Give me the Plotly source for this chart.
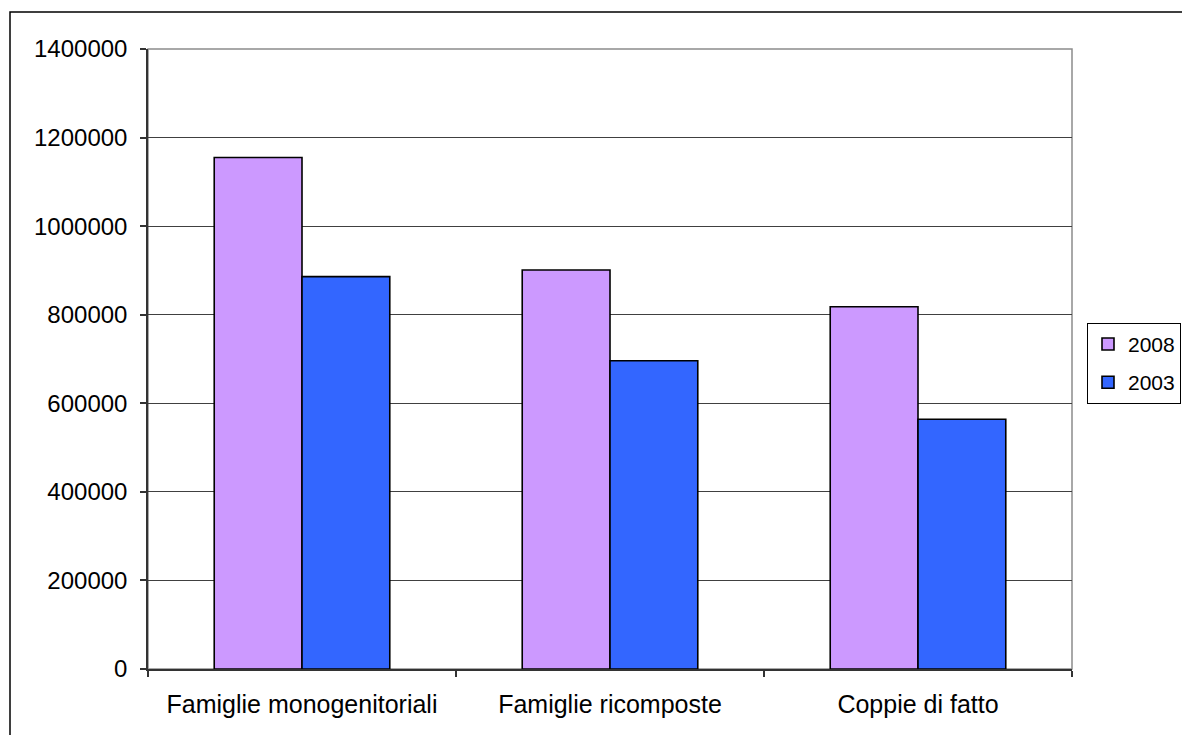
import plotly.graph_objects as go

# Household types and counts for the two survey years
categories = ["Famiglie monogenitoriali", "Famiglie ricomposte", "Coppie di fatto"]
values_2008 = [1155000, 901000, 818000]
values_2003 = [886000, 696000, 564000]
series_names = ["2008", "2003"]
y_ticks = [0, 200000, 400000, 600000, 800000, 1000000, 1200000, 1400000]

W, H = 1182, 735
M_L, M_R, M_T, M_B = 148, 110, 49, 65.5
plot_w = W - M_L - M_R
plot_h = H - M_T - M_B

FONT = "Arial, 'Liberation Sans', sans-serif"

fig = go.Figure()
fig.add_trace(go.Bar(
    x=categories, y=values_2008, name=series_names[0], legendgroup="a",
    marker=dict(color="#CC99FF", line=dict(color="#000000", width=1.6)),
))
fig.add_trace(go.Bar(
    x=categories, y=values_2003, name=series_names[1], legendgroup="b",
    marker=dict(color="#3366FF", line=dict(color="#000000", width=1.6)),
))

def px_x(px):
    return (px - M_L) / plot_w

def px_y(py):
    return (H - M_B - py) / plot_h

shapes = [
    # plot-area frame (top / right edges in grey)
    dict(type="rect", xref="paper", yref="paper", x0=0, x1=1, y0=0, y1=1,
         line=dict(color="#8c8c8c", width=1.5), layer="below"),
    # outer chart frame
    dict(type="rect", xref="paper", yref="paper",
         x0=px_x(10), x1=px_x(W + 20), y0=px_y(H + 20), y1=px_y(12),
         line=dict(color="#000000", width=1.5), layer="below"),
]

fig.update_layout(
    width=W, height=H,
    margin=dict(l=M_L, r=M_R, t=M_T, b=M_B, autoexpand=False),
    paper_bgcolor="white", plot_bgcolor="white",
    barmode="group", bargap=0.43, bargroupgap=0,
    font=dict(family=FONT, size=24, color="#000000"),
    shapes=shapes,
    showlegend=True,
    legend=dict(
        x=px_x(1087), xanchor="left", y=px_y(323), yanchor="top",
        bordercolor="#000000", borderwidth=1, bgcolor="white",
        font=dict(family=FONT, size=21, color="#000000"),
        traceorder="grouped", tracegroupgap=8,
        itemwidth=30,
    ),
    xaxis=dict(
        type="category", showgrid=False, showline=True,
        linecolor="#333333", linewidth=1.5,
        ticks="outside", ticklen=6, tickcolor="#333333", tickwidth=1.5,
        tickson="boundaries",
        ticklabelstandoff=12,
        tickfont=dict(family=FONT, size=25, color="#000000"),
    ),
    yaxis=dict(
        range=[0, 1400000], tickvals=y_ticks, ticktext=[str(v) for v in y_ticks],
        showgrid=True, gridcolor="#404040", gridwidth=1,
        zeroline=False, showline=True, linecolor="#333333", linewidth=1.5,
        ticks="outside", ticklen=6, tickcolor="#333333", tickwidth=1.5,
        ticklabelstandoff=8,
        tickfont=dict(family=FONT, size=24, color="#000000"),
    ),
)

fig.write_html("out.html")
